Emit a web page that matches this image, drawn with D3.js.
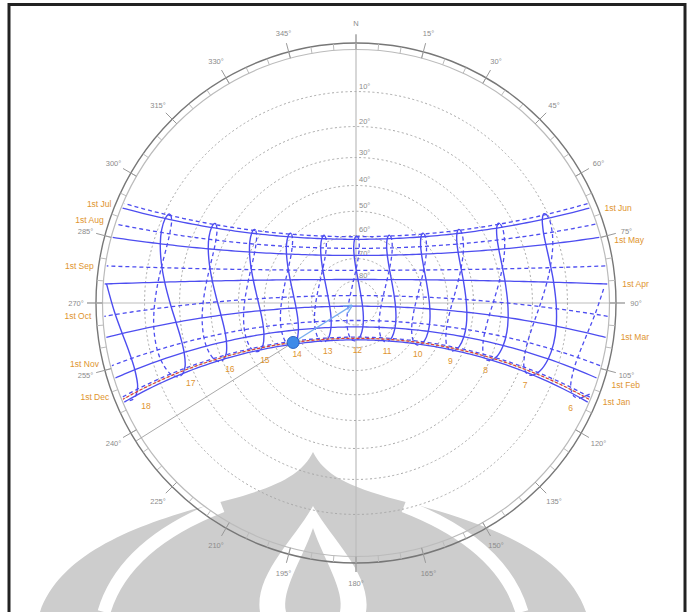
<!DOCTYPE html>
<html>
<head>
<meta charset="utf-8">
<script src="https://cdn.jsdelivr.net/npm/d3@7"></script>
<style>
  body { margin: 0; background: #fff; }
  svg text { font-family: "Liberation Sans", Arial, sans-serif; }
</style>
</head>
<body>
<div id="chart"></div>
<script>
// site
var latitude = -6.36;
var clockCorrection = 0.5; // minutes, longitude vs zone meridian

// 1st of each month: declination (deg) and equation of time (min)
var monthLabels = ["1st Jan", "1st Feb", "1st Mar", "1st Apr", "1st May", "1st Jun",
                   "1st Jul", "1st Aug", "1st Sep", "1st Oct", "1st Nov", "1st Dec"];
var monthDecl = [-23.0, -17.2, -7.8, 4.3, 15.0, 22.0, 23.1, 18.1, 8.4, -3.0, -14.3, -21.8];
var monthEot = [-3.3, -13.5, -12.5, -4.1, 2.9, 2.2, -3.8, -6.3, -0.2, 10.1, 16.4, 11.2];
var monthLabelNudge = [0, 7, 0, 0, 3, 0, 0, -4, 0, 0, -2, 0];

// analemma samples, Jan-Jun (solid) and Jul-Dec (dashed)
var firstHalfDecl = [-23.0, -21.2, -17.2, -12.6, -7.8, -2.4, 4.3, 9.7, 15.0, 18.8, 22.0, 23.3, 23.44, 23.2];
var firstHalfEot = [-3.3, -9.2, -13.5, -14.2, -12.5, -9.1, -4.1, -0.1, 2.9, 3.7, 2.2, -0.3, -1.6, -3.5];
var secondHalfDecl = [23.1, 21.6, 18.1, 14.1, 8.4, 3.1, -3.0, -8.4, -14.3, -18.4, -21.8, -23.3, -23.44, -23.1];
var secondHalfEot = [-3.8, -5.9, -6.3, -4.6, -0.2, 4.6, 10.1, 14.2, 16.4, 15.4, 11.2, 4.9, 2.0, -2.9];

var hours = [6, 7, 8, 9, 10, 11, 12, 13, 14, 15, 16, 17, 18];
var altitudeRings = [10, 20, 30, 40, 50, 60, 70, 80];
var azimuthTicks = [0, 15, 30, 45, 60, 75, 90, 105, 120, 135, 150, 165, 180, 195, 210, 225, 240, 255, 270, 285, 300, 315, 330, 345];

// current day and sun
var currentDecl = -22.3, currentEot = -1.5, currentHour = 14;

var W = 693, H = 612, cx = 356, cy = 303, R = 252;
var rad = Math.PI / 180;
var blue = "#4d4df0", orange = "#e0942e", grey = "#8c8c8c";

var svg = d3.select("#chart").append("svg")
    .attr("width", W)
    .attr("height", H);

// stereographic altitude -> radius
var rScale = function(alt) { return R * Math.tan((90 - alt) / 2 * rad); };
function project(alt, az) {
  var r = rScale(alt);
  return [cx + r * Math.sin(az * rad), cy - r * Math.cos(az * rad)];
}
function polar(r, az) { return [cx + r * Math.sin(az * rad), cy - r * Math.cos(az * rad)]; }

function sunAt(decl, ha) {
  var d = decl * rad, h = ha * rad, p = latitude * rad;
  var sinAlt = Math.sin(p) * Math.sin(d) + Math.cos(p) * Math.cos(d) * Math.cos(h);
  var alt = Math.asin(sinAlt);
  var cosAz = (Math.sin(d) - sinAlt * Math.sin(p)) / (Math.cos(alt) * Math.cos(p));
  var az = Math.acos(Math.max(-1, Math.min(1, cosAz))) / rad;
  if (ha > 0) az = 360 - az;
  return { alt: alt / rad, az: az };
}
function hourAngle(clock, eot) { return 15 * (clock + (clockCorrection + eot) / 60 - 12); }

function dayPath(decl) {
  var h0 = Math.acos(-Math.tan(latitude * rad) * Math.tan(decl * rad)) / rad;
  var hs = d3.range(-h0, h0, 1.5).concat([h0]);
  return hs.map(function(h) { var s = sunAt(decl, h); return project(Math.max(0, s.alt), s.az); });
}

// watermark
var wm = svg.append("g").attr("class", "watermark");
wm.append("path").attr("fill", "#cdcdcd")
  .attr("d", "M40,612 C62,548 150,520 228,500 C280,486 302,474 313,452 C324,474 346,486 398,500 C476,520 564,548 586,612 Z");
wm.append("path").attr("fill", "none").attr("stroke", "#fff").attr("stroke-width", 13)
  .attr("d", "M222,506 C160,530 118,565 104,612");
wm.append("path").attr("fill", "none").attr("stroke", "#fff").attr("stroke-width", 13)
  .attr("d", "M404,506 C466,530 508,565 522,612");
wm.append("path").attr("fill", "#fff")
  .attr("d", "M313,506 C332,540 372,575 366,612 L260,612 C254,575 294,540 313,506 Z");
wm.append("path").attr("fill", "#cdcdcd")
  .attr("d", "M313,528 C324,560 345,590 340,612 L286,612 C281,590 302,560 313,528 Z");

// frame
svg.append("rect")
    .attr("x", 9).attr("y", 4.5)
    .attr("width", 676).attr("height", 700)
    .attr("fill", "none").attr("stroke", "#222").attr("stroke-width", 3);

// axis lines
svg.append("line").attr("x1", cx).attr("x2", cx).attr("y1", cy - 268).attr("y2", cy + 269)
    .attr("stroke", "#bdbdbd").attr("stroke-width", 1.2);
svg.append("line").attr("x1", cx - 269).attr("x2", cx + 269).attr("y1", cy).attr("y2", cy)
    .attr("stroke", "#bdbdbd").attr("stroke-width", 1.2);

// altitude rings
svg.selectAll(".altRing")
    .data(altitudeRings)
    .enter().append("circle")
      .attr("class", "altRing")
      .attr("cx", cx).attr("cy", cy)
      .attr("r", function(d) { return rScale(d); })
      .attr("fill", "none")
      .attr("stroke", "#a8a8a8")
      .attr("stroke-dasharray", "2,2.5");

svg.selectAll(".altLabel")
    .data(altitudeRings)
    .enter().append("text")
      .attr("class", "altLabel")
      .attr("x", cx + 3)
      .attr("y", function(d) { return cy - rScale(d) - 3; })
      .attr("font-size", 7.5)
      .attr("fill", grey)
      .text(function(d) { return d + "°"; });

// azimuth ring
svg.append("circle").attr("cx", cx).attr("cy", cy).attr("r", 253.5)
    .attr("fill", "none").attr("stroke", "#bbb").attr("stroke-width", 1.2);
svg.append("circle").attr("cx", cx).attr("cy", cy).attr("r", 260)
    .attr("fill", "none").attr("stroke", "#777").attr("stroke-width", 1.4);

svg.selectAll(".minorTick")
    .data(d3.range(0, 360, 5))
    .enter().append("line")
      .attr("class", "minorTick")
      .attr("x1", function(d) { return polar(253.5, d)[0]; })
      .attr("y1", function(d) { return polar(253.5, d)[1]; })
      .attr("x2", function(d) { return polar(260, d)[0]; })
      .attr("y2", function(d) { return polar(260, d)[1]; })
      .attr("stroke", "#bbb");

svg.selectAll(".majorTick")
    .data(azimuthTicks)
    .enter().append("line")
      .attr("class", "majorTick")
      .attr("x1", function(d) { return polar(253.5, d)[0]; })
      .attr("y1", function(d) { return polar(253.5, d)[1]; })
      .attr("x2", function(d) { return polar(269, d)[0]; })
      .attr("y2", function(d) { return polar(269, d)[1]; })
      .attr("stroke", "#999");

svg.selectAll(".azLabel")
    .data(azimuthTicks)
    .enter().append("text")
      .attr("class", "azLabel")
      .attr("x", function(d) { return polar(280, d)[0]; })
      .attr("y", function(d) { return polar(280, d)[1] + 3; })
      .attr("text-anchor", "middle")
      .attr("font-size", 7.5)
      .attr("fill", grey)
      .text(function(d) { return d === 0 ? "N" : d + "°"; });

// sun azimuth line
var sun = sunAt(currentDecl, hourAngle(currentHour, currentEot));
var sunXY = project(sun.alt, sun.az);
var rimXY = polar(260, sun.az);
svg.append("line")
    .attr("x1", sunXY[0]).attr("y1", sunXY[1])
    .attr("x2", rimXY[0]).attr("y2", rimXY[1])
    .attr("stroke", "#aaa").attr("stroke-width", 1);

var line = d3.line().curve(d3.curveCatmullRom);

// date lines
svg.selectAll(".dateLine")
    .data(monthDecl)
    .enter().append("path")
      .attr("class", "dateLine")
      .attr("d", function(d) { return line(dayPath(d)); })
      .attr("fill", "none")
      .attr("stroke", blue)
      .attr("stroke-width", 1.3)
      .attr("stroke-dasharray", function(d, i) { return i < 6 ? null : "4,3"; });

svg.selectAll(".dateLabel")
    .data(monthDecl)
    .enter().append("text")
      .attr("class", "dateLabel")
      .attr("x", function(d, i) {
        var p = dayPath(d);
        return i < 6 ? p[0][0] + 15 : p[p.length - 1][0] - 13;
      })
      .attr("y", function(d, i) {
        var p = dayPath(d);
        return (i < 6 ? p[0][1] : p[p.length - 1][1]) + 3 + monthLabelNudge[i];
      })
      .attr("text-anchor", function(d, i) { return i < 6 ? "start" : "end"; })
      .attr("font-size", 8.5)
      .attr("fill", orange)
      .text(function(d, i) { return monthLabels[i]; });

// hour lines (analemmas)
var hourLine = d3.line()
    .defined(function(d) { return d.alt >= 0; })
    .x(function(d) { return project(d.alt, d.az)[0]; })
    .y(function(d) { return project(d.alt, d.az)[1]; })
    .curve(d3.curveCatmullRom);

function analemma(hour, decls, eots) {
  return decls.map(function(d, i) { return sunAt(d, hourAngle(hour, eots[i])); });
}

svg.selectAll(".hourSolid")
    .data(hours)
    .enter().append("path")
      .attr("class", "hourSolid")
      .attr("d", function(h) { return hourLine(analemma(h, firstHalfDecl, firstHalfEot)); })
      .attr("fill", "none")
      .attr("stroke", blue)
      .attr("stroke-width", 1.4);

svg.selectAll(".hourDashed")
    .data(hours)
    .enter().append("path")
      .attr("class", "hourDashed")
      .attr("d", function(h) { return hourLine(analemma(h, secondHalfDecl, secondHalfEot)); })
      .attr("fill", "none")
      .attr("stroke", blue)
      .attr("stroke-width", 1.3)
      .attr("stroke-dasharray", "4,3");

svg.selectAll(".hourLabel")
    .data(hours)
    .enter().append("text")
      .attr("class", "hourLabel")
      .attr("x", function(h) {
        var s = sunAt(firstHalfDecl[0], hourAngle(h, firstHalfEot[0]));
        var p = project(s.alt, s.az);
        return p[0] + (cx - p[0]) * 0.045;
      })
      .attr("y", function(h) {
        var s = sunAt(firstHalfDecl[0], hourAngle(h, firstHalfEot[0]));
        return project(s.alt, s.az)[1] + 13;
      })
      .attr("text-anchor", "middle")
      .attr("font-size", 8.5)
      .attr("fill", orange)
      .text(function(h) { return h; });

// current day
svg.append("path")
    .attr("d", line(dayPath(currentDecl)))
    .attr("fill", "none")
    .attr("stroke", "#b8c890")
    .attr("stroke-width", 0.8);
svg.append("path")
    .attr("d", line(dayPath(currentDecl)))
    .attr("fill", "none")
    .attr("stroke", "#e23a3a")
    .attr("stroke-width", 1.2)
    .attr("stroke-dasharray", "3,2");

// sun vector
svg.append("defs").append("marker")
    .attr("id", "arrow")
    .attr("viewBox", "0 0 10 10")
    .attr("refX", 9).attr("refY", 5)
    .attr("markerWidth", 7).attr("markerHeight", 7)
    .attr("orient", "auto")
  .append("path")
    .attr("d", "M0,0 L10,5 L0,10")
    .attr("fill", "none")
    .attr("stroke", "#78aef0")
    .attr("stroke-width", 1.5);

var tipR = 5;
var dx = cx - sunXY[0], dy = cy - sunXY[1], len = Math.sqrt(dx * dx + dy * dy);
svg.append("line")
    .attr("x1", sunXY[0]).attr("y1", sunXY[1])
    .attr("x2", cx - dx / len * tipR).attr("y2", cy - dy / len * tipR)
    .attr("stroke", "#78aef0")
    .attr("stroke-width", 1.3)
    .attr("marker-end", "url(#arrow)");

svg.append("circle")
    .attr("cx", sunXY[0]).attr("cy", sunXY[1])
    .attr("r", 6)
    .attr("fill", "#3f8ae8")
    .attr("stroke", "#2a62c4")
    .attr("stroke-width", 1);
</script>
</body>
</html>
